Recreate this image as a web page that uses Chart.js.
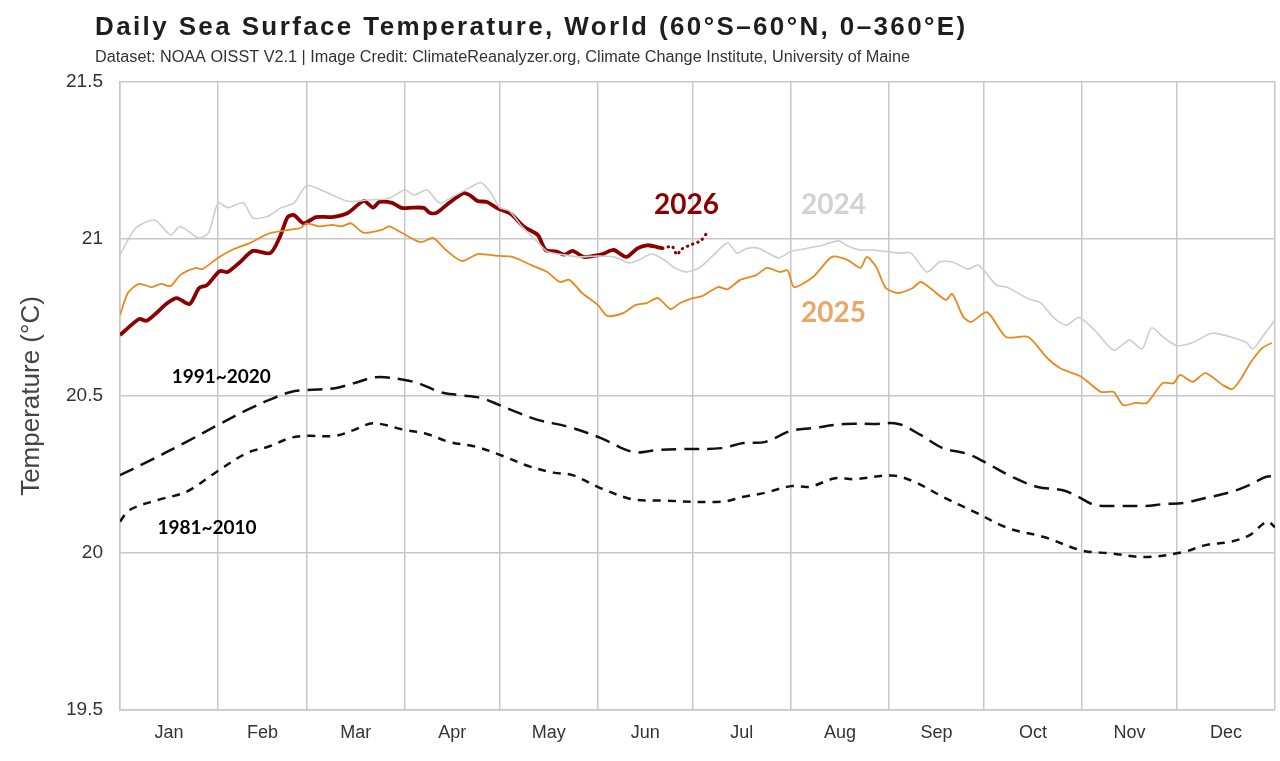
<!DOCTYPE html>
<html>
<head>
<meta charset="utf-8">
<title>Daily Sea Surface Temperature, World</title>
<script src="https://cdn.jsdelivr.net/npm/chart.js@4.4.1/dist/chart.umd.min.js"></script>
<style>
  body { margin: 0; background: #fff; }
  #wrap { width: 1280px; height: 761px; }
</style>
</head>
<body>
<div id="wrap"><canvas id="sst" width="1280" height="761"></canvas></div>
<script>
// month axis
const monthNames = ["Jan", "Feb", "Mar", "Apr", "May", "Jun", "Jul", "Aug", "Sep", "Oct", "Nov", "Dec"];
const monthStarts = [0, 31, 59, 90, 120, 151, 181, 212, 243, 273, 304, 334, 365];
const tempTicks = [19.5, 20, 20.5, 21, 21.5];

// 2024 (day of year, deg C)
const days2024 = [0, 5, 11, 16, 19, 25, 28, 31, 34, 39,
  42, 46, 48, 51, 55, 59, 65, 72, 78, 85,
  90, 93, 97, 101, 105, 111, 114, 117, 120, 123,
  127, 132, 135, 140, 145, 151, 156, 161, 164, 168,
  172, 175, 179, 183, 187, 192, 195, 198, 202, 208,
  212, 217, 222, 227, 230, 234, 238, 246, 250, 255,
  259, 263, 268, 271, 273, 277, 280, 282, 287, 291,
  295, 299, 303, 308, 314, 319, 323, 326, 330, 334,
  339, 345, 352, 356, 358, 361, 365];
const sst2024 = [20.95, 21.035, 21.06, 21.013, 21.04, 21.003, 21.02, 21.115, 21.10, 21.115,
  21.067, 21.07, 21.08, 21.10, 21.115, 21.17, 21.15, 21.12, 21.124, 21.13,
  21.156, 21.14, 21.156, 21.115, 21.134, 21.166, 21.18, 21.15, 21.10, 21.09,
  21.04, 20.99, 20.96, 20.95, 20.943, 20.946, 20.943, 20.924, 20.933, 20.952,
  20.933, 20.91, 20.895, 20.908, 20.943, 20.987, 20.955, 20.97, 20.97, 20.94,
  20.96, 20.97, 20.98, 20.994, 20.978, 20.965, 20.965, 20.955, 20.955, 20.895,
  20.927, 20.927, 20.904, 20.917, 20.90, 20.853, 20.847, 20.838, 20.81, 20.796,
  20.75, 20.726, 20.75, 20.71, 20.646, 20.678, 20.65, 20.717, 20.685, 20.66,
  20.67, 20.70, 20.685, 20.67, 20.65, 20.688, 20.742];

// 2025
const days2025 = [0, 2.5, 6, 10, 13, 16, 19, 24, 26, 31,
  36, 41, 46, 48, 54, 57, 59, 63, 67, 70,
  73, 77, 83, 85, 89, 95, 99, 103, 108, 113,
  116, 120, 124, 130, 135, 139, 142, 146, 151, 154,
  159, 163, 166.5, 170, 174, 177, 181, 184, 189, 192,
  196, 201, 204.5, 208.5, 211, 213, 219, 225, 230, 234,
  236, 239, 242, 246, 250.5, 253, 256, 261, 263, 266.5,
  269, 274, 280, 287, 293, 297, 301, 304, 310, 314,
  317, 321, 324.5, 329.5, 333, 335, 339, 343, 348.5, 351.5,
  354, 357, 361, 364];
const sst2025 = [20.758, 20.828, 20.857, 20.847, 20.857, 20.85, 20.885, 20.908, 20.904, 20.94,
  20.968, 20.987, 21.013, 21.02, 21.03, 21.035, 21.05, 21.04, 21.045, 21.04,
  21.05, 21.02, 21.03, 21.04, 21.02, 20.99, 21.003, 20.965, 20.93, 20.952,
  20.95, 20.946, 20.943, 20.917, 20.895, 20.863, 20.87, 20.828, 20.79, 20.755,
  20.764, 20.79, 20.796, 20.812, 20.777, 20.796, 20.812, 20.818, 20.847, 20.84,
  20.87, 20.885, 20.908, 20.895, 20.90, 20.847, 20.879, 20.943, 20.933, 20.908,
  20.943, 20.911, 20.844, 20.828, 20.844, 20.863, 20.844, 20.806, 20.825, 20.752,
  20.736, 20.767, 20.688, 20.688, 20.621, 20.589, 20.573, 20.56, 20.513, 20.513,
  20.471, 20.478, 20.478, 20.541, 20.541, 20.567, 20.545, 20.573, 20.535, 20.522,
  20.551, 20.602, 20.653, 20.669];

// 2026 so far, then preliminary (dotted)
const days2026 = [0, 6, 8.5, 15, 18, 22, 25, 27.5, 31.5, 34,
  38, 42, 47.5, 50.5, 53, 55, 58, 62, 67, 72,
  77, 80, 82, 86, 89, 92.5, 96, 98, 100, 104,
  108.5, 110.5, 113, 116, 119, 123.5, 127.5, 132, 134.5, 138,
  140.5, 143, 146.5, 149.5, 152.5, 156, 160, 163.5, 166.5, 169.5,
  171.5];
const sst2026 = [20.694, 20.745, 20.74, 20.796, 20.812, 20.793, 20.844, 20.853, 20.898, 20.895,
  20.927, 20.962, 20.955, 21.006, 21.07, 21.076, 21.05, 21.07, 21.07, 21.083,
  21.121, 21.10, 21.118, 21.115, 21.099, 21.10, 21.099, 21.083, 21.083, 21.115,
  21.146, 21.14, 21.121, 21.118, 21.099, 21.08, 21.04, 21.013, 20.965, 20.96,
  20.95, 20.962, 20.943, 20.946, 20.952, 20.965, 20.943, 20.97, 20.98, 20.975,
  20.97];
const daysPrelim = [171.5, 174.5, 176, 177.5, 181, 183.5, 185.5];
const sstPrelim = [20.97, 20.976, 20.95, 20.968, 20.984, 20.994, 21.02];

// climatologies
const daysClim9120 = [0, 8, 21, 31, 40, 47, 54, 59, 68, 74,
  81, 90, 95, 101, 107, 114, 120, 126, 132, 142,
  152, 162, 170, 177, 190, 197, 204, 212, 219, 229,
  238, 246, 253, 260, 268, 275, 282, 290, 298, 303,
  308, 315, 324, 330, 336, 343, 351, 357, 362, 365];
const clim9120 = [20.248, 20.287, 20.354, 20.408, 20.455, 20.487, 20.513, 20.519, 20.525, 20.541,
  20.56, 20.551, 20.538, 20.513, 20.503, 20.494, 20.471, 20.446, 20.424, 20.401,
  20.366, 20.322, 20.328, 20.331, 20.334, 20.35, 20.354, 20.389, 20.398, 20.411,
  20.411, 20.411, 20.376, 20.334, 20.315, 20.28, 20.242, 20.21, 20.2, 20.178,
  20.153, 20.15, 20.15, 20.156, 20.159, 20.175, 20.194, 20.217, 20.242, 20.245];
const daysClim8110 = [0, 3, 12, 21, 30, 40, 47, 54, 59, 68,
  74, 80, 90, 97, 104, 113, 121, 129, 137, 143,
  152, 162, 171, 190, 197, 204, 212, 218, 226, 232,
  244, 251, 260, 270, 281, 292, 304, 313, 324, 336,
  343, 351, 357, 362.5, 365];
const clim8110 = [20.1, 20.137, 20.169, 20.195, 20.255, 20.318, 20.339, 20.367, 20.373, 20.373,
  20.392, 20.413, 20.392, 20.379, 20.354, 20.337, 20.309, 20.277, 20.256, 20.248,
  20.206, 20.171, 20.167, 20.163, 20.179, 20.192, 20.213, 20.211, 20.238, 20.235,
  20.247, 20.227, 20.179, 20.131, 20.078, 20.051, 20.008, 19.999, 19.987, 20.003,
  20.025, 20.036, 20.057, 20.1, 20.082];

// in-chart series labels, placed in data coordinates
const seriesLabels = [
  { text: "2026", day: 179, temp: 21.108, color: "#8b0000", font: "bold 28px Lato, 'Open Sans', sans-serif" },
  { text: "2024", day: 225.5, temp: 21.108, color: "#d2d2d2", font: "bold 28px Lato, 'Open Sans', sans-serif" },
  { text: "2025", day: 225.5, temp: 20.764, color: "#e9a768", font: "bold 28px Lato, 'Open Sans', sans-serif" },
  { text: "1991~2020", day: 32, temp: 20.56, color: "#000", font: "bold 19px Lato, 'Open Sans', sans-serif" },
  { text: "1981~2010", day: 27.5, temp: 20.08, color: "#000", font: "bold 19px Lato, 'Open Sans', sans-serif" },
];

const gridColor = "#c8c8c8";
const narrowFont = "'Liberation Sans Narrow', 'Liberation Sans', Arial, sans-serif";
const monthMids = monthNames.map((m, i) => (monthStarts[i] + monthStarts[i + 1]) / 2);

function pts(days, vals) {
  return days.map((d, i) => ({ x: d, y: vals[i] }));
}

function line(label, data, color, width, extra) {
  return Object.assign({
    label: label,
    data: data,
    borderColor: color,
    borderWidth: width,
    pointRadius: 0,
    tension: 0.25,
    fill: false,
    borderJoinStyle: "round",
  }, extra || {});
}

// title, subtitle and the series labels
const textPlugin = {
  id: "texts",
  afterDraw(chart) {
    const ctx = chart.ctx;
    const xs = chart.scales.x, ys = chart.scales.y;
    ctx.save();

    ctx.fillStyle = "#1e1e1e";
    ctx.textBaseline = "alphabetic";
    ctx.textAlign = "left";
    ctx.font = "bold 26px 'Liberation Sans', Arial, sans-serif";
    const title = "Daily Sea Surface Temperature, World (60°S–60°N, 0–360°E)";
    const w0 = ctx.measureText(title).width;
    ctx.letterSpacing = ((870 - w0) / (title.length - 1)).toFixed(2) + "px";
    ctx.fillText(title, 95, 35);
    ctx.letterSpacing = "0px";

    ctx.fillStyle = "#333";
    ctx.font = "16px " + narrowFont;
    const sub = "Dataset: NOAA OISST V2.1 | Image Credit: ClimateReanalyzer.org, Climate Change Institute, University of Maine";
    const w1 = ctx.measureText(sub).width;
    ctx.save();
    ctx.translate(95, 62);
    ctx.scale(815 / w1, 1);
    ctx.fillText(sub, 0, 0);
    ctx.restore();

    ctx.textAlign = "center";
    ctx.textBaseline = "middle";
    seriesLabels.forEach((l) => {
      ctx.font = l.font;
      ctx.fillStyle = l.color;
      ctx.fillText(l.text, xs.getPixelForValue(l.day), ys.getPixelForValue(l.temp));
    });
    ctx.restore();
  },
};

new Chart(document.getElementById("sst"), {
  type: "line",
  data: {
    datasets: [
      line("1991~2020", pts(daysClim9120, clim9120), "#111", 2.5, { borderDash: [15, 8], tension: 0.35 }),
      line("1981~2010", pts(daysClim8110, clim8110), "#111", 2.5, { borderDash: [8, 7], tension: 0.35 }),
      line("2024", pts(days2024, sst2024), "#cdcdcd", 1.6),
      line("2025", pts(days2025, sst2025), "#e8891f", 1.8),
      line("2026", pts(days2026, sst2026), "#8b0000", 3.8),
      line("2026 prelim", pts(daysPrelim, sstPrelim), "#8b0000", 3, { borderDash: [0.5, 5], borderCapStyle: "round" }),
    ],
  },
  options: {
    responsive: false,
    animation: false,
    layout: { padding: { top: 82, right: 5, left: 0, bottom: 0 } },
    plugins: {
      legend: { display: false },
      tooltip: { enabled: false },
    },
    scales: {
      x: {
        type: "linear",
        min: 0,
        max: 365,
        afterBuildTicks: (scale) => {
          scale.ticks = monthStarts.concat(monthMids).sort((a, b) => a - b).map((v) => ({ value: v }));
        },
        afterFit: (scale) => {
          scale.height = 51;
          scale.paddingLeft = 0;
          scale.paddingRight = 0;
        },
        grid: {
          color: (c) => (c.tick && monthStarts.includes(c.tick.value) ? gridColor : "rgba(0,0,0,0)"),
          lineWidth: 1.5,
          drawTicks: false,
        },
        border: { color: gridColor, width: 1.5 },
        ticks: {
          autoSkip: false,
          maxRotation: 0,
          padding: 12,
          color: "#333",
          font: { family: narrowFont, size: 18 },
          callback: (v) => {
            const i = monthMids.indexOf(v);
            return i >= 0 ? monthNames[i] : "";
          },
        },
      },
      y: {
        min: 19.5,
        max: 21.5,
        afterBuildTicks: (scale) => { scale.ticks = tempTicks.map((v) => ({ value: v })); },
        afterFit: (scale) => { scale.width = 120; },
        grid: { color: gridColor, lineWidth: 1.5, drawTicks: false },
        border: { color: gridColor, width: 1.5 },
        ticks: {
          padding: 17,
          color: "#333",
          font: { family: narrowFont, size: 19 },
          callback: (v) => String(v),
        },
        title: {
          display: true,
          text: "Temperature (°C)",
          color: "#444",
          font: { family: "'Liberation Sans', Arial, sans-serif", size: 26 },
          padding: { top: 16, bottom: 0 },
        },
      },
    },
  },
  plugins: [textPlugin],
});
</script>
</body>
</html>
